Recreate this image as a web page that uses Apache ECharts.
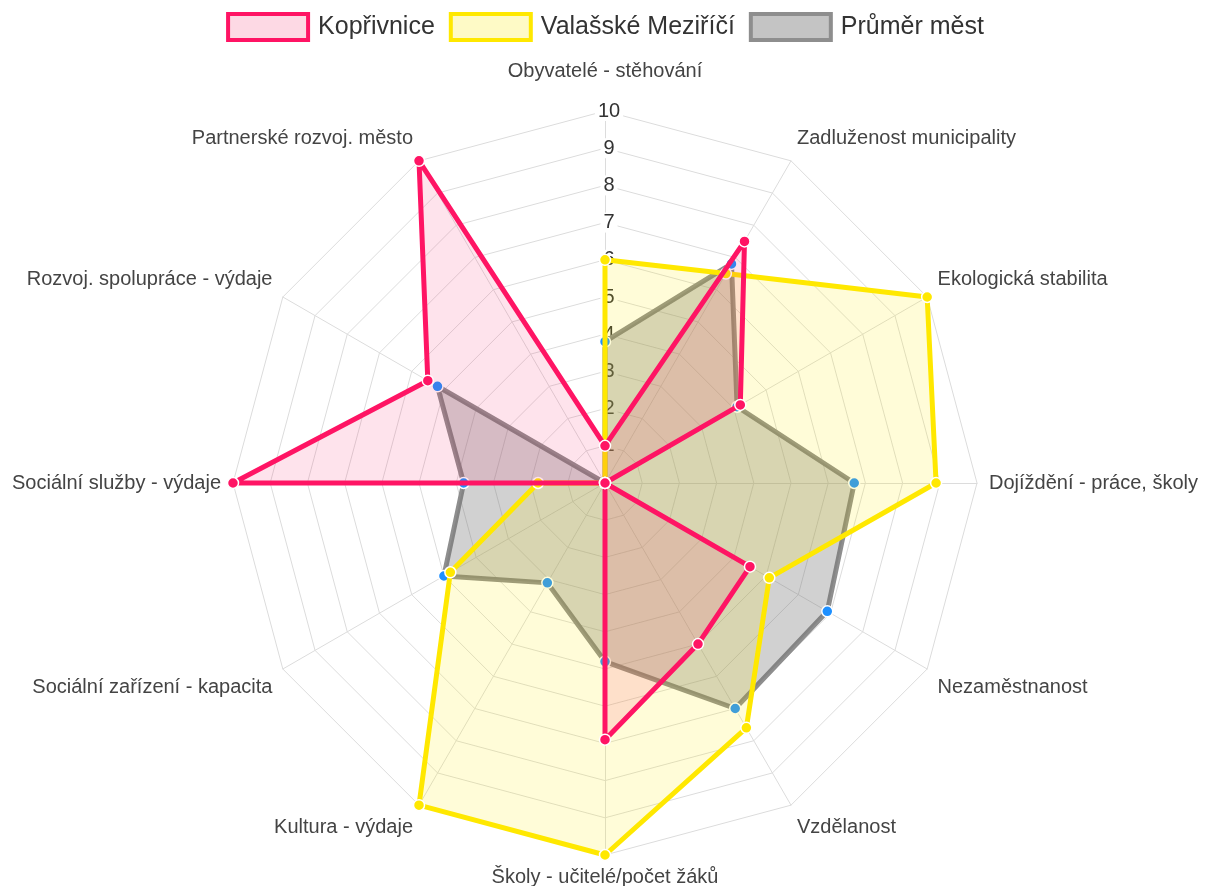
<!DOCTYPE html>
<html>
<head>
<meta charset="utf-8">
<title>Radar</title>
<script src="https://cdn.jsdelivr.net/npm/echarts@6/dist/echarts.min.js"></script>
<style>
  html, body { margin: 0; padding: 0; background: #fff; }
  #chart { width: 1210px; height: 886px; }
</style>
</head>
<body>
<div id="chart"></div>
<script>
// ukazatele ve směru hodinových ručiček, od horního
const indicators = [
  'Obyvatelé - stěhování',
  'Zadluženost municipality',
  'Ekologická stabilita',
  'Dojíždění - práce, školy',
  'Nezaměstnanost',
  'Vzdělanost',
  'Školy - učitelé/počet žáků',
  'Kultura - výdaje',
  'Sociální zařízení - kapacita',
  'Sociální služby - výdaje',
  'Rozvoj. spolupráce - výdaje',
  'Partnerské rozvoj. město'
];
const koprivnice = [1, 7.5, 4.2, 0, 4.5, 5, 6.9, 0, 0, 10, 5.5, 10];
const valasske   = [6, 6.5, 10, 8.9, 5.1, 7.6, 10, 10, 4.8, 1.8, 0, 0];
const prumer     = [3.8, 6.8, 4.1, 6.7, 6.9, 7, 4.8, 3.1, 5, 3.8, 5.2, 0];
const seriesNames = ['Kopřivnice', 'Valašské Meziříčí', 'Průměr měst'];
const maxValue = 10;

// echarts klade ukazatele proti směru hodin -> otočit pořadí
const ccw = a => [a[0]].concat(a.slice(1).reverse());

const FONT = '"Liberation Sans", Arial, Helvetica, sans-serif';
const red = '#ff1464';
const yellow = '#ffe800';
const gray = '#8e8e8e';
const blue = '#1e90ff';

// horní popisky posunout nahoru, dolní dolů (šikmé osy)
const upper = [indicators[1], indicators[2], indicators[10], indicators[11]];
const lower = [indicators[4], indicators[5], indicators[7], indicators[8]];

const chart = echarts.init(document.getElementById('chart'));

const indicatorList = ccw(indicators).map((name, i) => {
  const item = { name: name, max: maxValue, min: 0 };
  if (i === 0) {
    item.nameGap = 30;
    item.axisLabel = {
      show: true,
      showMinLabel: false,
      fontSize: 20,
      color: '#333',
      fontFamily: FONT,
      align: 'center',
      verticalAlign: 'middle',
      margin: -4,
      backgroundColor: '#fff',
      padding: [0, 3]
    };
  }
  return item;
});

const labelStyle = { color: '#444', fontSize: 20, fontFamily: FONT };

const option = {
  animation: false,
  legend: {
    top: 7,
    left: 'center',
    itemWidth: 80,
    itemHeight: 26,
    itemGap: 14,
    icon: 'rect',
    textStyle: { fontSize: 25, color: '#333', fontFamily: FONT, padding: [0, 0, 0, 5] },
    data: [
      { name: seriesNames[0], itemStyle: { color: '#fdd9e4', borderColor: red, borderWidth: 4 } },
      { name: seriesNames[1], itemStyle: { color: '#fefac6', borderColor: yellow, borderWidth: 4 } },
      { name: seriesNames[2], itemStyle: { color: '#c4c4c4', borderColor: gray, borderWidth: 4 } }
    ]
  },
  radar: {
    center: [605, 483],
    radius: 372,
    startAngle: 90,
    splitNumber: 10,
    shape: 'polygon',
    nameGap: 12,
    axisName: {
      color: '#444',
      fontSize: 20,
      fontFamily: FONT,
      formatter: function (name) {
        if (upper.indexOf(name) >= 0) return '{u|' + name + '}';
        if (lower.indexOf(name) >= 0) return '{d|' + name + '}';
        return name;
      },
      rich: {
        u: Object.assign({ padding: [0, 0, 24, 0] }, labelStyle),
        d: Object.assign({ padding: [24, 0, 0, 0] }, labelStyle)
      }
    },
    splitLine: { lineStyle: { color: '#dcdcdc', width: 1 } },
    axisLine: { lineStyle: { color: '#dcdcdc', width: 1 } },
    splitArea: { show: false },
    axisLabel: { show: false },
    indicator: indicatorList
  },
  series: [
    {
      name: seriesNames[2],
      type: 'radar',
      z: 2,
      symbol: 'circle',
      symbolSize: 11,
      lineStyle: { color: gray, width: 5 },
      itemStyle: { color: blue, borderColor: '#fff', borderWidth: 1.5 },
      areaStyle: { color: 'rgba(110,110,110,0.45)' },
      data: [{ value: ccw(prumer), name: seriesNames[2] }]
    },
    {
      name: seriesNames[1],
      type: 'radar',
      z: 3,
      symbol: 'circle',
      symbolSize: 11,
      lineStyle: { color: yellow, width: 5 },
      itemStyle: { color: yellow, borderColor: '#fff', borderWidth: 1.5 },
      areaStyle: { color: 'rgba(255,238,0,0.22)' },
      data: [{ value: ccw(valasske), name: seriesNames[1] }]
    },
    {
      name: seriesNames[0],
      type: 'radar',
      z: 4,
      symbol: 'circle',
      symbolSize: 11,
      lineStyle: { color: red, width: 5 },
      itemStyle: { color: red, borderColor: '#fff', borderWidth: 1.5 },
      areaStyle: { color: 'rgba(245,30,100,0.18)' },
      data: [{ value: ccw(koprivnice), name: seriesNames[0] }]
    }
  ]
};

chart.setOption(option);
</script>
</body>
</html>
